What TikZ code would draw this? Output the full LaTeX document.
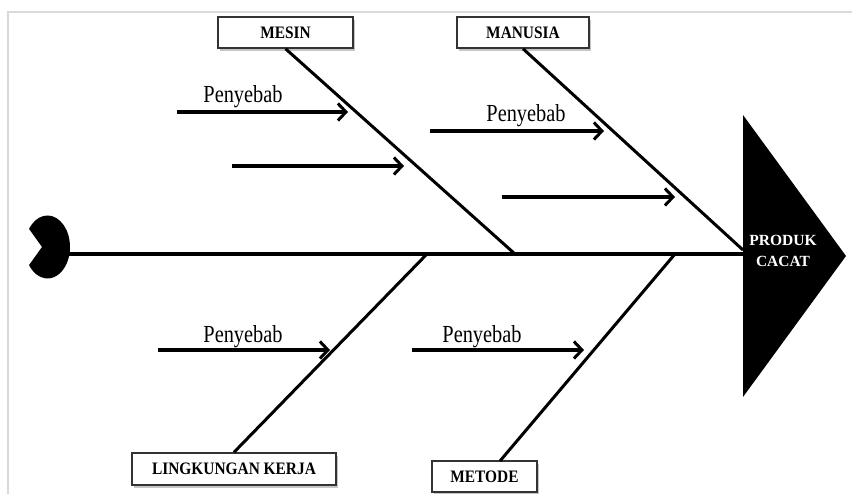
\documentclass[tikz,border=0pt]{standalone}
\usepackage{fontspec}
\usepackage{graphicx}
\setmainfont{Liberation Serif}
\usetikzlibrary{arrows.meta,shadows,calc}
\newcommand{\narrowtxt}[2]{\scalebox{#1}[1]{#2}}
\begin{document}
\begin{tikzpicture}[x=1pt,y=1pt,
  boxlbl/.style={draw=black!80, line width=1.5pt, fill=white,
    font=\fontsize{17.5}{19}\selectfont\bfseries, inner sep=0pt,
    drop shadow={shadow xshift=2pt, shadow yshift=-3pt, fill=black!45, opacity=0.5}},
  bone/.style={line width=3pt},
  cause/.style={line width=3.5pt, -{Straight Barb[length=8pt,width=17pt,line width=3pt]}},
  causelbl/.style={font=\fontsize{24.5}{26}\selectfont, anchor=base, inner sep=0pt},
  frameline/.style={draw=black!15, line width=2pt}
]
\useasboundingbox (0,0) rectangle (852,494);
% page frame
\coordinate (fTR) at (852,482);
\coordinate (fTL) at (8,482);
\coordinate (fBL) at (8,0);
\draw[frameline] (fTR) -- (fTL) -- (fBL);

% head (triangle)
\coordinate (triT) at (743,379);
\coordinate (triB) at (743,97);
\coordinate (triTip) at (846,238);
\fill[black] (triT) -- (triTip) -- (triB) -- cycle;
\node[text=white, font=\fontsize{15.5}{21}\selectfont\bfseries, align=center, inner sep=0pt] (head) at (783,243) {PRODUK\\CACAT};

% tail (pacman)
\coordinate (pacC) at (47.5,247);
\coordinate (pacV) at (42,247);
\fill[black] (pacV) -- ($(pacC)+(145:22.5 and 31.5)$) arc[start angle=145, end angle=-145, x radius=22.5, y radius=31.5] -- cycle;

% spine
\coordinate (spineL) at (69,240);
\coordinate (spineR) at (743,240);
\draw[line width=4pt] (spineL) -- (spineR);

% category boxes
\node[boxlbl, minimum width=135pt, minimum height=31pt] (mesin) at (285.5,461.5) {\narrowtxt{0.88}{MESIN}};
\node[boxlbl, minimum width=132pt, minimum height=31pt] (manusia) at (523,461.5) {\narrowtxt{0.88}{MANUSIA}};
\node[boxlbl, minimum width=204pt, minimum height=32pt] (lingk) at (234,25) {\narrowtxt{0.88}{LINGKUNGAN KERJA}};
\node[boxlbl, minimum width=105pt, minimum height=31pt] (metode) at (484.5,17.5) {\narrowtxt{0.88}{METODE}};

% bones
\coordinate (jMesin) at (515,240);
\coordinate (jManusia) at (743,244);
\coordinate (jLingk) at (427,240);
\coordinate (jMetode) at (675,240);
\coordinate (sMetode) at (500,33);
\draw[bone] (mesin.south) -- (jMesin);
\draw[bone] (manusia.south) -- (jManusia);
\draw[bone] (lingk.north) -- (jLingk);
\draw[bone] (sMetode) -- (jMetode);

% cause arrows
\coordinate (a1s) at (177,382); \coordinate (a1e) at (348,382);
\coordinate (a2s) at (232,328); \coordinate (a2e) at (404,328);
\coordinate (a3s) at (430,363); \coordinate (a3e) at (604,363);
\coordinate (a4s) at (502,297); \coordinate (a4e) at (675,297);
\coordinate (a5s) at (158,144); \coordinate (a5e) at (330,144);
\coordinate (a6s) at (412,144); \coordinate (a6e) at (584,144);
\draw[cause] (a1s) -- (a1e);
\draw[cause] (a2s) -- (a2e);
\draw[cause] (a3s) -- (a3e);
\draw[cause] (a4s) -- (a4e);
\draw[cause] (a5s) -- (a5e);
\draw[cause] (a6s) -- (a6e);

\node[causelbl] (p1) at (243,391) {\narrowtxt{0.83}{Penyebab}};
\node[causelbl] (p3) at (526,372) {\narrowtxt{0.83}{Penyebab}};
\node[causelbl] (p5) at (243,151) {\narrowtxt{0.83}{Penyebab}};
\node[causelbl] (p6) at (482,151) {\narrowtxt{0.83}{Penyebab}};
\end{tikzpicture}
\end{document}
